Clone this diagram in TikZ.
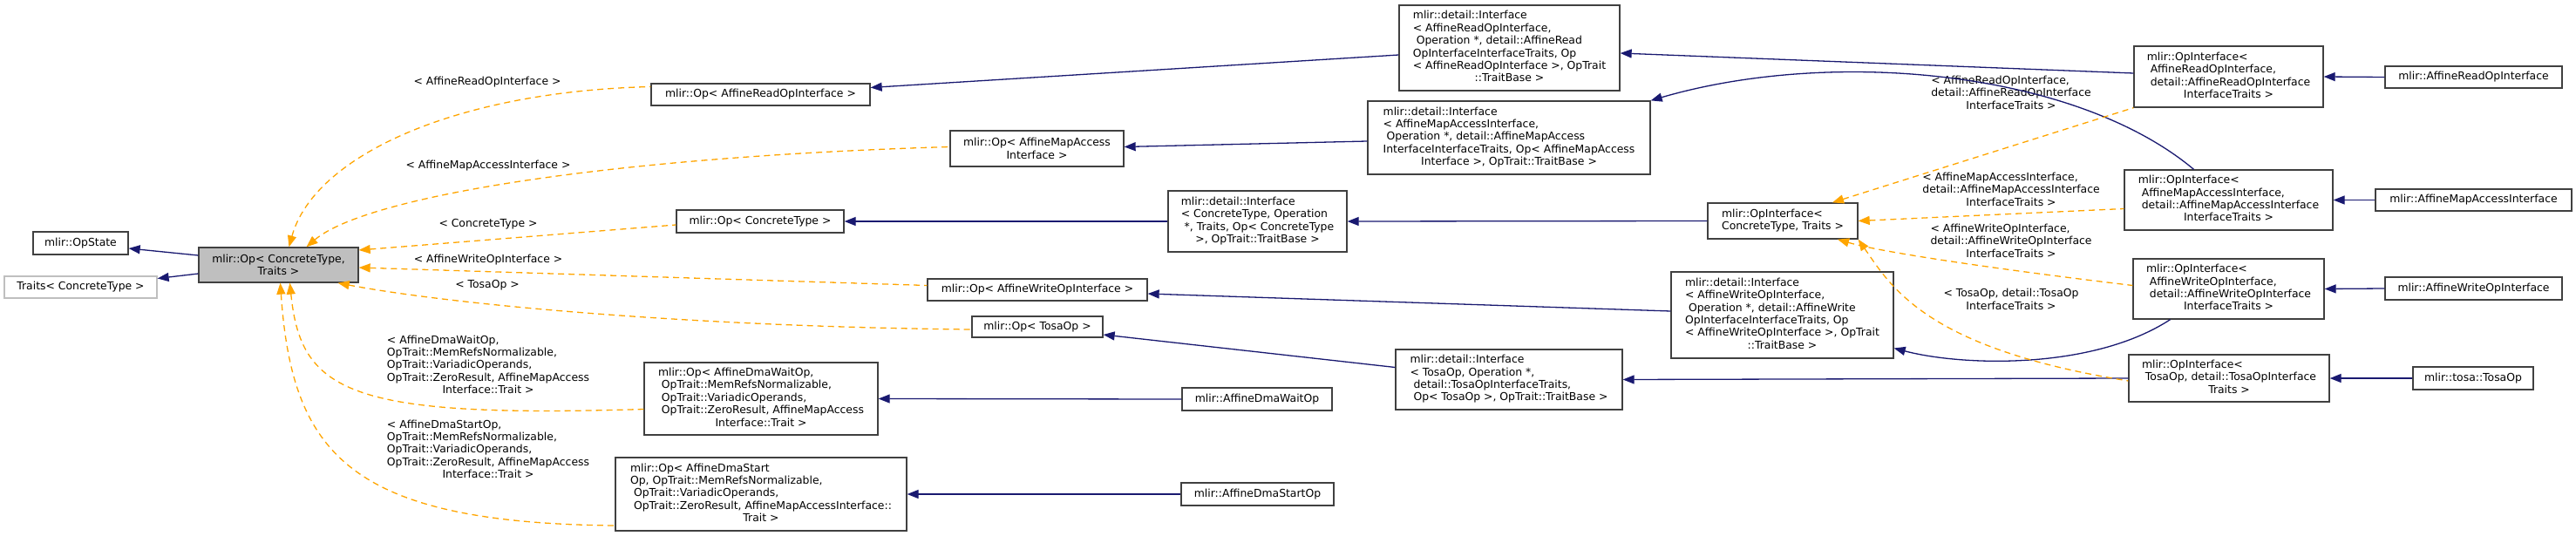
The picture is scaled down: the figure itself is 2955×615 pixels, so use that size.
\documentclass[tikz,border=0pt]{standalone}
\usepackage{fontspec}
\setmainfont{DejaVu Sans}
\usepackage{tikz}
\usetikzlibrary{arrows.meta}
\definecolor{navy}{HTML}{191970}
\definecolor{naranja}{HTML}{FFA500}
\definecolor{gris}{HTML}{BFBFBF}
\definecolor{borde}{HTML}{404040}
% lines flush left, last line centred
\newcommand{\dxl}[2]{\begin{tabular}{@{}l@{}}#1\\\multicolumn{1}{@{}c@{}}{#2}\end{tabular}}
\tikzset{
  clsbox/.style={rectangle, draw=borde, line width=1.3pt, fill=white, inner sep=0pt,
    align=center, font=\fontsize{12.4}{14.4}\selectfont},
  mainbox/.style={clsbox, fill=gris},
  extbox/.style={clsbox, draw=gris},
  tlabel/.style={inner sep=0pt, align=center, font=\fontsize{12.4}{14.4}\selectfont},
  inh/.style={{Triangle[length=13pt,width=10pt]}-, draw=navy, line width=1.3pt},
  tmpl/.style={{Triangle[length=13pt,width=10pt]}-, draw=naranja, line width=1.3pt,
    dash pattern=on 7pt off 5pt},
}
\begin{document}
\begin{tikzpicture}[x=1pt, y=-1pt]
    \useasboundingbox (0,0) rectangle (2955,615);
    % Bases
    \node[clsbox, minimum width=109pt, minimum height=26pt] (opstate) at (92.5,279) {mlir::OpState};
    \node[extbox, minimum width=175pt, minimum height=25pt] (traitsct) at (92.5,329.5) {Traits< ConcreteType >};
    \node[mainbox, minimum width=183pt, minimum height=40pt] (opmain) at (319.5,304) {mlir::Op< ConcreteType,\\Traits >};
    % Instancias de Op
    \node[clsbox, minimum width=251pt, minimum height=25pt] (opread) at (872.5,108.5) {mlir::Op< AffineReadOpInterface >};
    \node[clsbox, minimum width=199pt, minimum height=41pt] (opmap) at (1189.5,170.5) {mlir::Op< AffineMapAccess\\Interface >};
    \node[clsbox, minimum width=192pt, minimum height=26pt] (opct) at (872,254) {mlir::Op< ConcreteType >};
    \node[clsbox, minimum width=252pt, minimum height=25pt] (opwrite) at (1190,332.5) {mlir::Op< AffineWriteOpInterface >};
    \node[clsbox, minimum width=150pt, minimum height=24pt] (optosa) at (1190,375) {mlir::Op< TosaOp >};
    \node[clsbox, minimum width=268pt, minimum height=83pt] (opdmawait) at (873,457.5)
      {\dxl{mlir::Op< AffineDmaWaitOp,\\\ OpTrait::MemRefsNormalizable,\\\ OpTrait::VariadicOperands,\\\ OpTrait::ZeroResult, AffineMapAccess}{Interface::Trait >}};
    \node[clsbox, minimum width=334pt, minimum height=84pt] (opdmastart) at (873,567)
      {\dxl{mlir::Op< AffineDmaStart\\Op, OpTrait::MemRefsNormalizable,\\\ OpTrait::VariadicOperands,\\\ OpTrait::ZeroResult, AffineMapAccessInterface::}{Trait >}};
    % detail::Interface
    \node[clsbox, minimum width=253pt, minimum height=98pt] (ifread) at (1731.5,55)
      {\dxl{mlir::detail::Interface\\< AffineReadOpInterface,\\\ Operation *, detail::AffineRead\\OpInterfaceInterfaceTraits, Op\\< AffineReadOpInterface >, OpTrait}{::TraitBase >}};
    \node[clsbox, minimum width=324pt, minimum height=84pt] (ifmap) at (1731,158)
      {\dxl{mlir::detail::Interface\\< AffineMapAccessInterface,\\\ Operation *, detail::AffineMapAccess\\InterfaceInterfaceTraits, Op< AffineMapAccess}{Interface >, OpTrait::TraitBase >}};
    \node[clsbox, minimum width=205pt, minimum height=70pt] (ifct) at (1442.5,254)
      {\dxl{mlir::detail::Interface\\< ConcreteType, Operation\\\ *, Traits, Op< ConcreteType}{>, OpTrait::TraitBase >}};
    \node[clsbox, minimum width=255pt, minimum height=99pt] (ifwrite) at (2044.5,361.5)
      {\dxl{mlir::detail::Interface\\< AffineWriteOpInterface,\\\ Operation *, detail::AffineWrite\\OpInterfaceInterfaceTraits, Op\\< AffineWriteOpInterface >, OpTrait}{::TraitBase >}};
    \node[clsbox, minimum width=260pt, minimum height=69pt] (iftosa) at (1731,435.5)
      {\dxl{mlir::detail::Interface\\< TosaOp, Operation *,\\\ detail::TosaOpInterfaceTraits,}{\ Op< TosaOp >, OpTrait::TraitBase >}};
    \node[clsbox, minimum width=172pt, minimum height=26pt] (dmawait) at (1442,458) {mlir::AffineDmaWaitOp};
    \node[clsbox, minimum width=175pt, minimum height=26pt] (dmastart) at (1442.5,567) {mlir::AffineDmaStartOp};
    % OpInterface
    \node[clsbox, minimum width=172pt, minimum height=41pt] (oict) at (2045,253.5)
      {\dxl{mlir::OpInterface<}{ConcreteType, Traits >}};
    \node[clsbox, minimum width=217pt, minimum height=70pt] (oiread) at (2556.5,88)
      {\dxl{mlir::OpInterface<\\\ AffineReadOpInterface,\\\ detail::AffineReadOpInterface}{InterfaceTraits >}};
    \node[clsbox, minimum width=239pt, minimum height=69pt] (oimap) at (2556.5,229.5)
      {\dxl{mlir::OpInterface<\\\ AffineMapAccessInterface,\\\ detail::AffineMapAccessInterface}{InterfaceTraits >}};
    \node[clsbox, minimum width=219pt, minimum height=69pt] (oiwrite) at (2556.5,331.5)
      {\dxl{mlir::OpInterface<\\\ AffineWriteOpInterface,\\\ detail::AffineWriteOpInterface}{InterfaceTraits >}};
    \node[clsbox, minimum width=230pt, minimum height=54pt] (oitosa) at (2557,434)
      {\dxl{mlir::OpInterface<\\\ TosaOp, detail::TosaOpInterface}{Traits >}};
    % Interfaces finales
    \node[clsbox, minimum width=203pt, minimum height=25pt] (readif) at (2837.5,88.5) {mlir::AffineReadOpInterface};
    \node[clsbox, minimum width=225pt, minimum height=25pt] (mapif) at (2837.5,229.5) {mlir::AffineMapAccessInterface};
    \node[clsbox, minimum width=203pt, minimum height=26pt] (writeif) at (2837.5,331) {mlir::AffineWriteOpInterface};
    \node[clsbox, minimum width=138pt, minimum height=26pt] (tosaop) at (2837,434) {mlir::tosa::TosaOp};
    % Etiquetas de plantilla
    \node[tlabel] (lread) at (559,94) {< AffineReadOpInterface >};
    \node[tlabel] (lmap) at (560,190) {< AffineMapAccessInterface >};
    \node[tlabel] (lct) at (560,257) {< ConcreteType >};
    \node[tlabel] (lwrite) at (560,298) {< AffineWriteOpInterface >};
    \node[tlabel] (ltosa) at (559,327) {< TosaOp >};
    \node[tlabel] (lwait) at (560,420)
      {\dxl{< AffineDmaWaitOp,\\OpTrait::MemRefsNormalizable,\\OpTrait::VariadicOperands,\\OpTrait::ZeroResult, AffineMapAccess}{Interface::Trait >}};
    \node[tlabel] (lstart) at (560,517)
      {\dxl{< AffineDmaStartOp,\\OpTrait::MemRefsNormalizable,\\OpTrait::VariadicOperands,\\OpTrait::ZeroResult, AffineMapAccess}{Interface::Trait >}};
    \node[tlabel] (loiread) at (2307,108) {\dxl{< AffineReadOpInterface,\\detail::AffineReadOpInterface}{InterfaceTraits >}};
    \node[tlabel] (loimap) at (2307,219) {\dxl{< AffineMapAccessInterface,\\detail::AffineMapAccessInterface}{InterfaceTraits >}};
    \node[tlabel] (loiwrite) at (2307,278) {\dxl{< AffineWriteOpInterface,\\detail::AffineWriteOpInterface}{InterfaceTraits >}};
    \node[tlabel] (loitosa) at (2307,343.5) {< TosaOp, detail::TosaOp\\InterfaceTraits >};

    % Herencia
    \draw[inh] ([yshift=-6pt]opstate.east) -- ([yshift=11pt]opmain.west);
    \draw[inh] ([yshift=10pt]traitsct.east) -- ([yshift=-10pt]opmain.west);
    \draw[inh] ([yshift=8pt]opread.east) -- ([yshift=-8pt]ifread.west);
    \draw[inh] ([yshift=2pt]opmap.east) -- ([yshift=-4pt]ifmap.west);
    \draw[inh] (opct.east) -- (ifct.west);
    \draw[inh] ([yshift=-4.5pt]opwrite.east) -- ([yshift=4.5pt]ifwrite.west);
    \draw[inh] ([yshift=-9pt]optosa.east) -- ([yshift=14pt]iftosa.west);
    \draw[inh] (opdmawait.east) -- (dmawait.west);
    \draw[inh] (opdmastart.east) -- (dmastart.west);
    \draw[inh] (ifct.east) -- (oict.west);
    \draw[inh] ([yshift=-6pt]ifread.east) -- ([yshift=4pt]oiread.west);
    \draw[inh] (ifmap.north east) .. controls (2100,55) and (2380,80) .. ([xshift=-40pt]oimap.north);
    \draw[inh] ([yshift=-38pt]ifwrite.east) .. controls (2250,420) and (2400,425) .. ([xshift=-67pt]oiwrite.south);
    \draw[inh] (iftosa.east) -- (oitosa.west);
    \draw[inh] (oiread.east) -- (readif.west);
    \draw[inh] (oimap.east) -- (mapif.west);
    \draw[inh] (oiwrite.east) -- (writeif.west);
    \draw[inh] (oitosa.east) -- (tosaop.west);
    % Instancias de plantilla
    \draw[tmpl] ([xshift=12pt]opmain.north) .. controls (360,180) and (520,105) .. ([yshift=9pt]opread.west);
    \draw[tmpl] ([xshift=32pt]opmain.north) .. controls (420,225) and (700,180) .. ([yshift=2pt]opmap.west);
    \draw[tmpl] ([yshift=17pt]opmain.east) -- ([yshift=-4pt]opct.west);
    \draw[tmpl] ([yshift=-3pt]opmain.east) -- ([yshift=5pt]opwrite.west);
    \draw[tmpl] ([xshift=-24pt]opmain.south east) .. controls (520,350) and (800,375) .. ([yshift=-3pt]optosa.west);
    \draw[tmpl] ([xshift=13pt]opmain.south) .. controls (345,450) and (400,480) .. ([yshift=-12pt]opdmawait.west);
    \draw[tmpl] ([xshift=2pt]opmain.south) .. controls (335,520) and (400,600) .. ([yshift=-36pt]opdmastart.west);
    \draw[tmpl] ([xshift=57pt]oict.north) -- (oiread.south west);
    \draw[tmpl] (oict.east) -- ([yshift=-10pt]oimap.west);
    \draw[tmpl] ([xshift=63pt]oict.south) .. controls (2160,290) and (2300,310) .. ([yshift=4pt]oiwrite.west);
    \draw[tmpl] (oict.south east) .. controls (2170,330) and (2210,400) .. ([yshift=-3pt]oitosa.west);
\end{tikzpicture}
\end{document}
